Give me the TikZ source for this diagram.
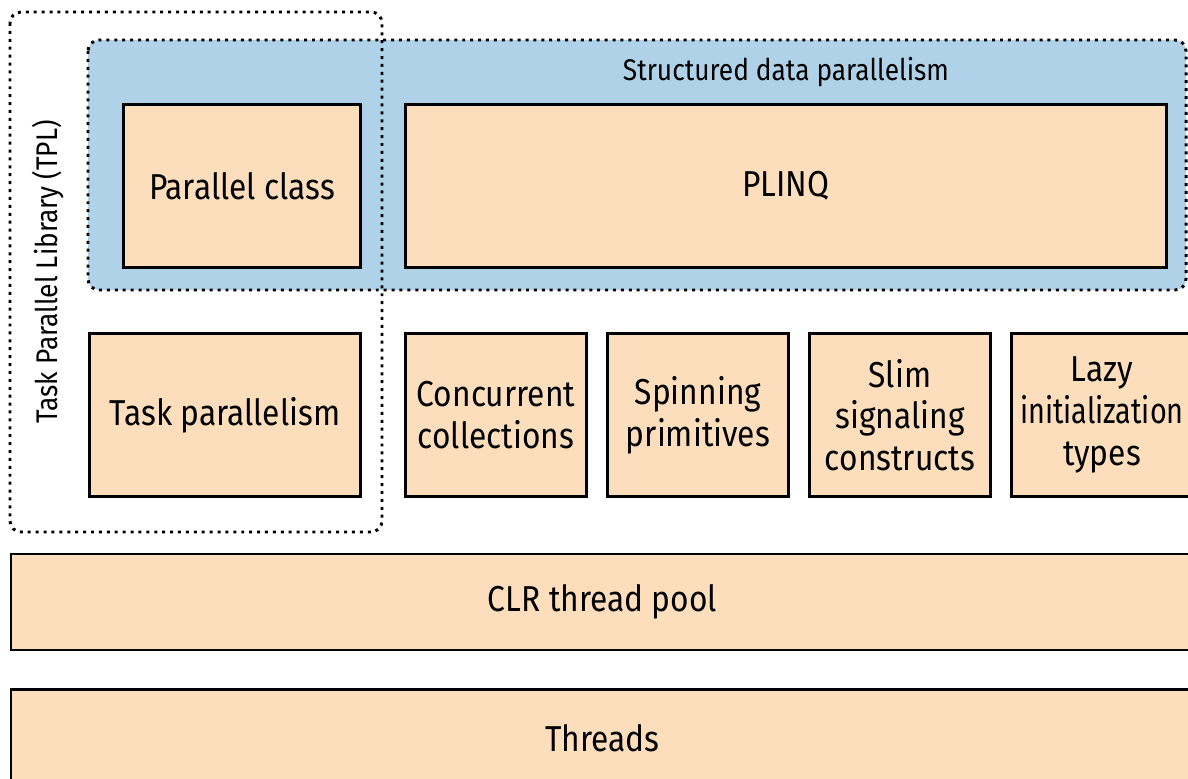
\documentclass[tikz,border=0pt]{standalone}
\usepackage{fontspec}
\setmainfont{Fira Sans}[FakeStretch=0.88]
\usetikzlibrary{positioning}
\definecolor{peach}{RGB}{252,222,188}
\definecolor{skyblue}{RGB}{176,210,232}

\begin{document}
\begin{tikzpicture}[
  box/.style={draw, line width=1.7pt, fill=peach, minimum height=3.26cm, align=center,
    font=\fontsize{20.5}{23.8}\selectfont, inner sep=0pt},
  smallbox/.style={box, minimum width=3.62cm},
  layer/.style={box, minimum width=23.66cm, minimum height=1.92cm, anchor=north west},
  group/.style={line width=1.7pt, dash pattern=on 1.7pt off 2.8pt, rounded corners=0.22cm},
  label/.style={font=\fontsize{17}{19}\selectfont}
]
\clip (0,0) rectangle (23.76,-15.56);
\fill[white] (0,0) rectangle (23.76,-15.56);

\draw[group, fill=skyblue] (1.76,-0.8) rectangle (23.72,-5.8);
\node[label] (sdp) at (15.72,-1.44) {Structured data parallelism};
\draw[group] (0.2,-0.24) rectangle (7.64,-10.64);
\node[label, rotate=90] (tpl) at (0.96,-5.44) {Task Parallel Library (TPL)};

\node[box, minimum width=4.74cm] (parallel) at (4.84,-3.72) {Parallel class};
\node[box, minimum width=15.22cm, right=0.84cm of parallel] (plinq) {PLINQ};
\node[box, minimum width=5.42cm, anchor=north east] (task) at ([yshift=-1.26cm]parallel.south east) {Task parallelism};
\node[smallbox, right=0.84cm of task] (concurrent) {Concurrent\\collections};
\node[smallbox, right=0.36cm of concurrent] (spinning) {Spinning\\primitives};
\node[smallbox, right=0.36cm of spinning] (slim) {Slim\\signaling\\constructs};
\node[smallbox, right=0.36cm of slim] (lazy) {Lazy\\\addfontfeature{FakeStretch=0.8}initialization\\types};

\node[layer] (pool) at (0.19,-11.05) {CLR thread pool};
\node[layer] (threads) at ([yshift=-0.74cm]pool.south west) {Threads};
\end{tikzpicture}
\end{document}
